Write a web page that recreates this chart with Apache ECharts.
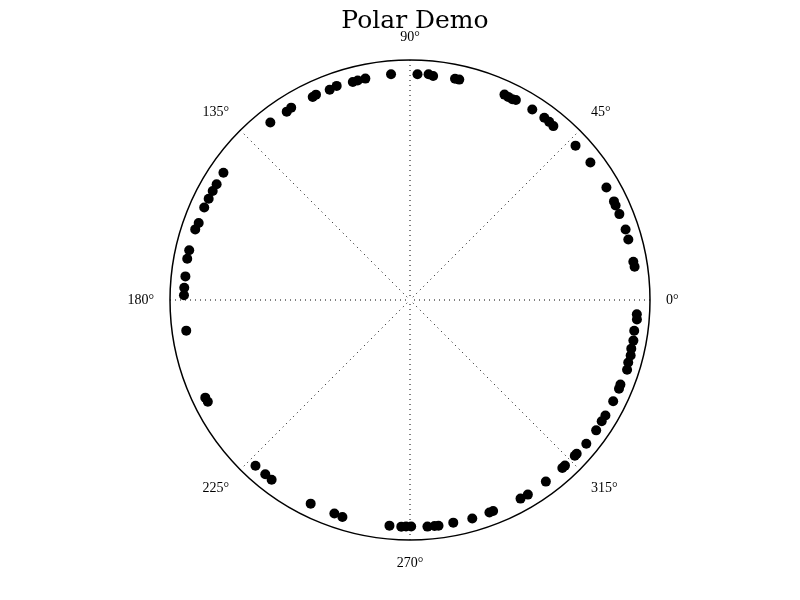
<!DOCTYPE html>
<html>
<head>
<meta charset="utf-8">
<script src="https://cdn.jsdelivr.net/npm/echarts@6/dist/echarts.min.js"></script>
<style>html,body{margin:0;padding:0;background:#fff}#c{width:800px;height:600px}</style>
</head>
<body>
<div id="c"></div>
<script>
var chartTitle = 'Polar Demo';
var angleTicks = [0, 45, 90, 135, 180, 225, 270, 315];
var angles = [94.8, 88.1, 85.3, 84.1, 78.5, 77.4, 65.3, 64.2, 63.0, 62.1,
  57.3, 53.6, 52.0, 50.5, 43.0, 37.3, 29.8, 25.8, 24.7, 22.3,
  18.1, 15.5, 9.7, 8.4, 356.4, 355.1, 352.2, 349.7, 347.6, 345.9,
  344.0, 342.2, 338.1, 337.0, 333.5, 329.4, 327.7, 325.0, 320.8, 317.3,
  316.6, 313.1, 312.2, 306.8, 301.2, 299.1, 291.5, 290.5, 285.9, 281.0,
  277.2, 276.2, 274.4, 270.3, 269.0, 267.8, 264.8, 252.7, 250.5, 244.0,
  232.4, 230.3, 227.0, 205.5, 206.7, 187.8, 178.8, 176.9, 174.0, 169.5,
  167.3, 161.8, 160.0, 155.8, 153.3, 151.1, 149.1, 145.7, 128.2, 123.2,
  121.7, 115.6, 114.6, 110.9, 108.9, 104.7, 103.4, 101.4];
var radii = [0.944, 0.941, 0.944, 0.938, 0.941, 0.941, 0.942, 0.940, 0.939, 0.943,
  0.943, 0.943, 0.942, 0.939, 0.943, 0.945, 0.943, 0.944, 0.943, 0.943,
  0.945, 0.944, 0.944, 0.946, 0.947, 0.949, 0.943, 0.946, 0.944, 0.948,
  0.946, 0.950, 0.945, 0.946, 0.946, 0.946, 0.945, 0.947, 0.948, 0.945,
  0.945, 0.945, 0.945, 0.945, 0.948, 0.947, 0.945, 0.945, 0.947, 0.945,
  0.948, 0.947, 0.947, 0.944, 0.944, 0.945, 0.944, 0.947, 0.944, 0.944,
  0.945, 0.944, 0.944, 0.945, 0.943, 0.941, 0.942, 0.942, 0.941, 0.944,
  0.943, 0.942, 0.937, 0.940, 0.939, 0.939, 0.939, 0.941, 0.941, 0.938,
  0.942, 0.938, 0.941, 0.938, 0.943, 0.939, 0.940, 0.941];

var data = radii.map(function (r, i) { return [r, angles[i]]; });

var chart = echarts.init(document.getElementById('c'), null, {renderer: 'canvas'});
chart.setOption({
  animation: false,
  backgroundColor: '#fff',
  title: {
    text: chartTitle,
    left: 410, top: 4, textAlign: 'center',
    textStyle: {fontFamily: 'DejaVu Serif', fontWeight: 'normal', fontSize: 25, color: '#000'}
  },
  polar: {center: [410, 300], radius: 240},
  angleAxis: {
    type: 'value', min: 0, max: 360, interval: 45,
    startAngle: 0, clockwise: false,
    axisLine: {show: true, lineStyle: {color: '#000', width: 1.5}},
    axisTick: {show: false},
    axisLabel: {
      margin: 16,
      fontFamily: 'Liberation Serif', fontSize: 14, color: '#000',
      formatter: function (v) { return angleTicks.indexOf(v) >= 0 ? v + '°' : ''; }
    },
    splitLine: {show: true, lineStyle: {color: '#000', width: 1, type: [1, 4]}}
  },
  radiusAxis: {
    type: 'value', min: 0, max: 1,
    axisLine: {show: false}, axisTick: {show: false}, axisLabel: {show: false},
    splitLine: {show: false}
  },
  series: [{
    type: 'scatter', coordinateSystem: 'polar',
    symbol: 'circle', symbolSize: 10,
    itemStyle: {color: '#000', opacity: 1},
    data: data
  }]
});
</script>
</body>
</html>
